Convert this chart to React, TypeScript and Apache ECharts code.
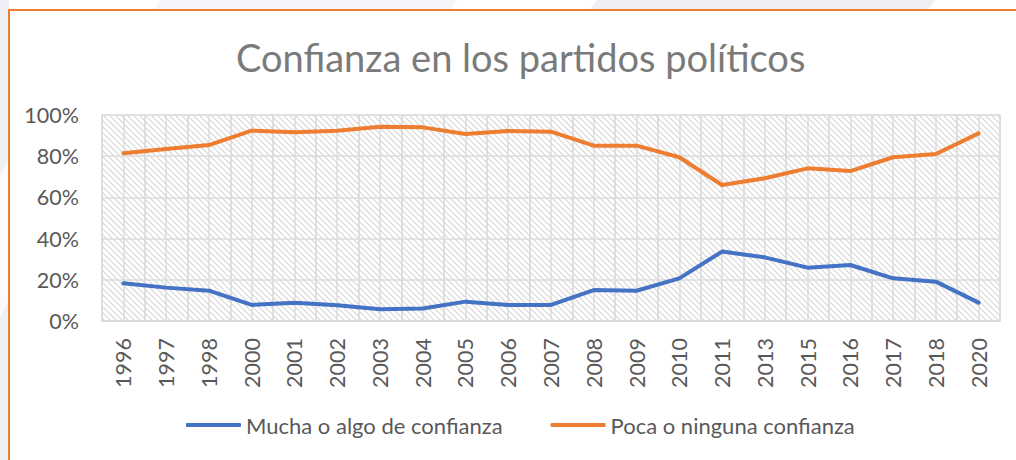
import React, { useEffect, useRef } from "react";
import * as echarts from "echarts";

const TITLE = "Confianza en los partidos políticos";
const years = ["1996","1997","1998","2000","2001","2002","2003","2004","2005","2006","2007","2008","2009","2010","2011","2013","2015","2016","2017","2018","2020"];
const seriesNames = ["Mucha o algo de confianza", "Poca o ninguna confianza"];
const mucha = [0.183,0.162,0.147,0.078,0.089,0.076,0.057,0.061,0.094,0.078,0.078,0.150,0.147,0.207,0.337,0.309,0.259,0.272,0.207,0.191,0.089];
const poca = [0.814,0.835,0.854,0.924,0.916,0.924,0.943,0.940,0.908,0.922,0.919,0.851,0.851,0.795,0.660,0.693,0.741,0.728,0.795,0.811,0.911];
const yTicks = [0, 0.2, 0.4, 0.6, 0.8, 1];

const FONT = "Lato, 'Open Sans', sans-serif";

const tileSvg =
  "<svg xmlns='http://www.w3.org/2000/svg' width='6' height='6'>" +
  "<rect width='6' height='6' fill='#ffffff'/>" +
  "<path d='M-1,-1 L7,7 M-1,5 L1,7 M5,-1 L7,1' stroke='#d6d6d6' stroke-width='1.1' fill='none'/>" +
  "</svg>";
const tileUrl = "data:image/svg+xml;charset=utf-8," + encodeURIComponent(tileSvg);

export default function App() {
  const ref = useRef<HTMLDivElement>(null);
  useEffect(() => {
    if (!ref.current) return;
    const chart = echarts.init(ref.current, null, { renderer: "svg" });
    chart.setOption({
      animation: false,
      backgroundColor: "#ffffff",
      graphic: [
        { type: "rect", shape: { x: 0, y: 0, width: 9, height: 460 }, style: { fill: "#eef0f5" }, silent: true },
        { type: "polygon", shape: { points: [[0, 175], [9, 160], [9, 300], [0, 318]] }, style: { fill: "#fbfbfd" }, silent: true },
        { type: "polygon", shape: { points: [[160, 0], [457, 0], [451, 9], [154, 9]] }, style: { fill: "#f4f5f9" }, silent: true },
        { type: "polygon", shape: { points: [[597, 0], [935, 0], [929, 9], [590, 9]] }, style: { fill: "#eef0f5" }, silent: true },
        { type: "line", shape: { x1: 9, y1: 10, x2: 1016, y2: 10 }, style: { stroke: "#ED7D31", lineWidth: 2 }, silent: true },
        { type: "line", shape: { x1: 9, y1: 9, x2: 9, y2: 460 }, style: { stroke: "#ED7D31", lineWidth: 2 }, silent: true },
      ],
      title: {
        text: TITLE,
        left: 231,
        top: 33,
        textStyle: { fontFamily: FONT, fontSize: 38, fontWeight: "normal", color: "#7a7a7a" },
      },
      legend: {
        left: 181,
        top: 409,
        itemWidth: 55,
        itemHeight: 4,
        itemGap: 48,
        icon: "roundRect",
        data: seriesNames,
        textStyle: { fontFamily: FONT, fontSize: 22, color: "#595959" },
      },
      grid: {
        left: 102,
        right: 16,
        top: 115,
        bottom: 139,
        show: true,
        borderColor: "#d9d9d9",
        borderWidth: 1,
        backgroundColor: { image: tileUrl, repeat: "repeat", imageWidth: 6, imageHeight: 6 },
      },
      xAxis: [
        {
          type: "category",
          data: years,
          boundaryGap: true,
          axisLine: { show: true, lineStyle: { color: "#d9d9d9", width: 1.5 } },
          axisTick: { show: false },
          splitLine: { show: true, lineStyle: { color: "#dcdcdc", width: 1.5 } },
          axisLabel: { rotate: 90, margin: 17, fontFamily: FONT, fontSize: 21.5, color: "#595959", interval: 0 },
        },
        {
          type: "value",
          min: 0,
          max: years.length * 2,
          interval: 1,
          position: "bottom",
          axisLine: { show: false },
          axisTick: { show: false },
          axisLabel: { show: false },
          splitLine: { show: true, lineStyle: { color: "#dcdcdc", width: 1.5 } },
        },
      ],
      yAxis: {
        type: "value",
        min: yTicks[0],
        max: yTicks[yTicks.length - 1],
        interval: 0.2,
        axisLine: { show: false },
        axisTick: { show: false },
        splitLine: { show: true, lineStyle: { color: "#dcdcdc", width: 1.5 } },
        axisLabel: {
          margin: 23,
          fontFamily: FONT,
          fontSize: 21.5,
          color: "#595959",
          formatter: (v: number) => Math.round(v * 100) + "%",
        },
      },
      series: [
        {
          name: seriesNames[0],
          type: "line",
          xAxisIndex: 0,
          data: mucha,
          symbol: "none",
          lineStyle: { color: "#4472C4", width: 4, cap: "round", join: "round" },
          itemStyle: { color: "#4472C4" },
        },
        {
          name: seriesNames[1],
          type: "line",
          xAxisIndex: 0,
          data: poca,
          symbol: "none",
          lineStyle: { color: "#ED7D31", width: 4, cap: "round", join: "round" },
          itemStyle: { color: "#ED7D31" },
        },
      ],
    });
    return () => chart.dispose();
  }, []);
  return (
    <div
      ref={ref}
      style={{ position: "absolute", left: 0, top: 0, width: 1016, height: 460 }}
    />
  );
}
